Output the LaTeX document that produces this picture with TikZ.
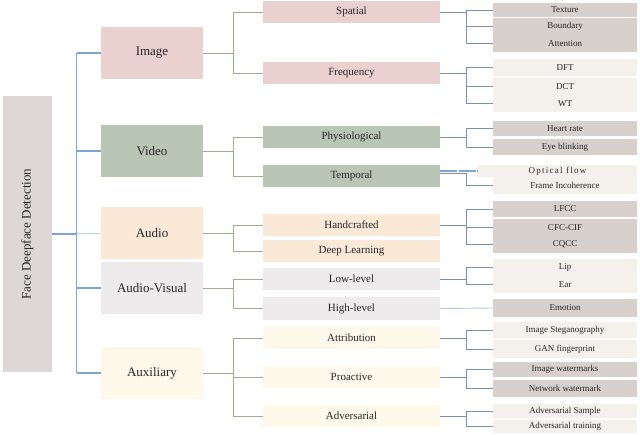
\documentclass[tikz,border=0pt]{standalone}
\usepackage{fontspec}
\setmainfont{Liberation Serif}
\newfontfamily\spacedfont[LetterSpace=14]{Liberation Serif}
\definecolor{rootgray}{HTML}{DDD7D7}
\definecolor{imgpink}{HTML}{EBD0D0}
\definecolor{vidgreen}{HTML}{BAC6B5}
\definecolor{audpeach}{HTML}{FBE9D8}
\definecolor{avgray}{HTML}{EDEBEB}
\definecolor{auxcream}{HTML}{FEF9EB}
\definecolor{darkleaf}{HTML}{D7D0CD}
\definecolor{lightleaf}{HTML}{F4F0EC}
\definecolor{rootline}{HTML}{7FA3D6}
\definecolor{greenline}{HTML}{A0AD92}
\definecolor{blueline}{HTML}{7C90B5}
\definecolor{txt}{HTML}{262626}
\tikzset{
  box/.style={inner sep=0pt, outer sep=0pt, text=txt, anchor=center},
  rootbox/.style={box, fill=rootgray, minimum width=49pt, minimum height=276pt, font=\fontsize{13}{15}\selectfont},
  lone/.style={box, minimum width=102pt, minimum height=52pt, font=\fontsize{13}{15}\selectfont},
  ltwo/.style={box, minimum width=177pt, minimum height=22pt, font=\fontsize{11}{13}\selectfont},
  lthree/.style={box, minimum width=144pt, font=\fontsize{9}{11}\selectfont},
  rconn/.style={draw=rootline, line width=1.1pt},
  gconn/.style={draw=greenline, line width=0.9pt},
  bconn/.style={draw=blueline, line width=0.9pt},
}
\begin{document}
\begin{tikzpicture}[x=1pt, y=-1pt]
\useasboundingbox (0,0) rectangle (640,434);
% root
\node[rootbox] (root) at (27.5,234) {\rotatebox{90}{Face Deepface Detection}};
% level 1
\node[lone, fill=imgpink] (image) at (152,53) {Image};
\node[lone, fill=vidgreen] (video) at (152,151) {Video};
\node[lone, fill=audpeach] (audio) at (152,233) {Audio};
\node[lone, fill=avgray] (av) at (152,288) {Audio-Visual};
\node[lone, fill=auxcream] (aux) at (152,373) {Auxiliary};
% level 2
\node[ltwo, fill=imgpink] (spatial) at (351.5,12) {Spatial};
\node[ltwo, fill=imgpink] (freq) at (351.5,73) {Frequency};
\node[ltwo, fill=vidgreen] (phys) at (351.5,137) {Physiological};
\node[ltwo, fill=vidgreen] (temporal) at (351.5,176) {Temporal};
\node[ltwo, fill=audpeach] (hand) at (351.5,225) {Handcrafted};
\node[ltwo, fill=audpeach] (deep) at (351.5,251) {Deep Learning};
\node[ltwo, fill=avgray] (low) at (351.5,279) {Low-level};
\node[ltwo, fill=avgray, minimum height=23pt] (high) at (351.5,308.5) {High-level};
\node[ltwo, fill=auxcream] (attr) at (351.5,338) {Attribution};
\node[ltwo, fill=auxcream] (proact) at (351.5,377) {Proactive};
\node[ltwo, fill=auxcream] (adv) at (351.5,416) {Adversarial};
% level 3
\node[lthree, fill=darkleaf, minimum height=14pt] (texture) at (565,10) {Texture};
\node[lthree, fill=darkleaf, minimum height=17pt] (boundary) at (565,26.5) {Boundary};
\node[lthree, fill=darkleaf, minimum height=17pt] (attention) at (565,43.5) {Attention};
\node[lthree, fill=lightleaf, minimum height=17pt] (dft) at (565,67.5) {DFT};
\node[lthree, fill=lightleaf, minimum height=17pt] (dct) at (565,86.5) {DCT};
\node[lthree, fill=lightleaf, minimum height=17pt] (wt) at (565,103.5) {WT};
\node[lthree, fill=darkleaf, minimum height=15pt] (heart) at (565,128.5) {Heart rate};
\node[lthree, fill=darkleaf, minimum height=16pt] (eye) at (565,147) {Eye blinking};
\node[lthree, fill=lightleaf, minimum width=159pt, minimum height=12pt] (optical) at (557.5,171) {\spacedfont Optical flow};
\node[lthree, fill=lightleaf, minimum height=17pt] (frame) at (565,185.5) {Frame Incoherence};
\node[lthree, fill=darkleaf, minimum height=16pt] (lfcc) at (565,209) {LFCC};
\node[lthree, fill=darkleaf, minimum height=17pt] (cfc) at (565,227.5) {CFC-CIF};
\node[lthree, fill=darkleaf, minimum height=17pt] (cqcc) at (565,244.5) {CQCC};
\node[lthree, fill=lightleaf, minimum height=17pt] (lip) at (565,267.5) {Lip};
\node[lthree, fill=lightleaf, minimum height=17pt] (ear) at (565,284.5) {Ear};
\node[lthree, fill=darkleaf, minimum height=18pt] (emotion) at (565,308) {Emotion};
\node[lthree, fill=lightleaf, minimum height=16pt] (steg) at (565,330) {Image Steganography};
\node[lthree, fill=lightleaf, minimum height=18pt] (gan) at (565,349) {GAN fingerprint};
\node[lthree, fill=darkleaf, minimum height=15pt] (imgwm) at (565,369.5) {Image watermarks};
\node[lthree, fill=darkleaf, minimum height=17pt] (netwm) at (565,388.5) {Network watermark};
\node[lthree, fill=lightleaf, minimum height=14pt] (advs) at (565,411) {Adversarial Sample};
\node[lthree, fill=lightleaf, minimum height=13pt] (advt) at (565,426.5) {Adversarial training};
% root connectors
\coordinate (rx) at (76.5,0);
\draw[rconn] (root.east) -- (root.east -| rx);
\draw[rconn] (rx |- image.west) -- (rx |- aux.west);
\draw[rconn] (rx |- image.west) -- (image.west);
\draw[rconn] (rx |- video.west) -- (video.west);
\draw[draw=rootline!50, line width=0.8pt] (rx |- audio.west) -- (audio.west);
\draw[rconn] (rx |- av.west) -- (av.west);
\draw[rconn] (rx |- aux.west) -- (aux.west);
% level1 -> level2
\draw[gconn] (image.east) -- ++(30,0) |- (spatial.west);
\draw[gconn] (image.east) -- ++(30,0) |- (freq.west);
\draw[gconn] (video.east) -- ++(30,0) |- (phys.west);
\draw[gconn] (video.east) -- ++(30,0) |- (temporal.west);
\draw[gconn] (audio.east) -- ++(30,0) |- (hand.west);
\draw[gconn] (audio.east) -- ++(30,0) |- (deep.west);
\draw[gconn] (av.east) -- ++(30,0) |- (low.west);
\draw[gconn] (av.east) -- ++(30,0) |- (high.west);
\draw[gconn] (aux.east) -- ++(30,0) |- (attr.west);
\draw[gconn] (aux.east) -- ++(30,0) |- (proact.west);
\draw[gconn] (aux.east) -- ++(30,0) |- (adv.west);
% level2 -> level3
\foreach \p/\c in {spatial/texture, spatial/boundary, spatial/attention,
  freq/dft, freq/dct, freq/wt, phys/heart, phys/eye,
  hand/lfcc, hand/cfc, hand/cqcc, low/lip, low/ear,
  attr/steg, attr/gan, proact/imgwm, proact/netwm, adv/advs, adv/advt}
  {\draw[bconn] (\p.east) -- ++(26,0) |- (\c.west);}
\draw[bconn] ([yshift=3pt]temporal.east) -- ++(26,0) |- (frame.west);
\draw[draw=rootline, line width=1.1pt, dash pattern=on 17pt off 1.5pt] (temporal.east |- optical.west) -- (optical.west);
\draw[draw=rootline!60, line width=0.9pt] (high.east) -- (emotion.west);
\end{tikzpicture}
\end{document}
